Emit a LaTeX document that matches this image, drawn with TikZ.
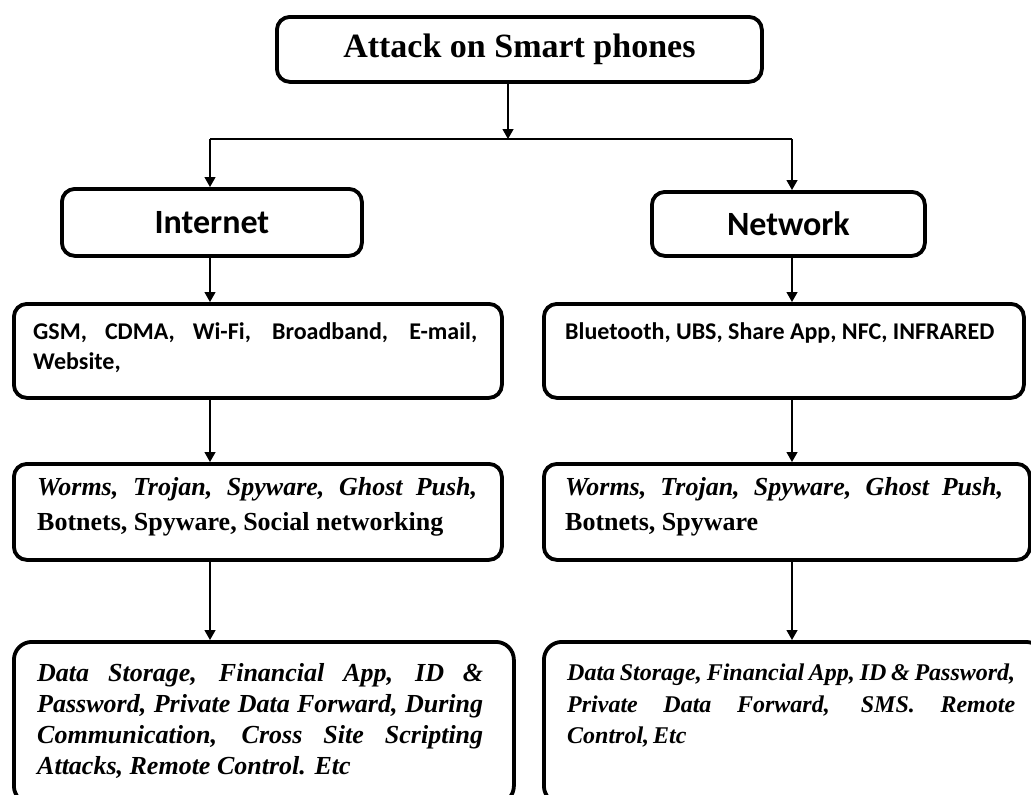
\documentclass[tikz,border=0pt]{standalone}
\usepackage{fontspec}
\setmainfont{Liberation Serif}
\newfontfamily\calibri{Carlito}
\usetikzlibrary{arrows.meta}

\tikzset{
  box/.style={draw=black, line width=3.8pt, rounded corners=13pt, fill=white,
              anchor=north west, inner sep=0pt},
  bigbox/.style={box, rounded corners=18pt},
  conn/.style={draw=black, line width=1.3pt},
  arr/.style={conn, -{Triangle[width=11pt,length=10pt]}},
  txt/.style={anchor=north west, inner sep=0pt, align=justify},
  headfont/.style={font=\calibri\bfseries\fontsize{34}{40}\selectfont},
  mediafont/.style={font=\calibri\bfseries\fontsize{24}{30}\selectfont},
  threatfont/.style={font=\bfseries\fontsize{26}{35}\selectfont},
  targetfont/.style={font=\bfseries\itshape\fontsize{26}{31}\selectfont},
}

\begin{document}
\begin{tikzpicture}[x=1pt,y=-1pt]
\useasboundingbox (0,0) rectangle (1031,795);
\clip (0,0) rectangle (1031,795);
\fill[white] (0,0) rectangle (1031,795);

% column axes and the branching point
\coordinate (colL) at (210,0);
\coordinate (colR) at (792,0);
\coordinate (split) at (508,139);

% root
\node[box, minimum width=485pt, minimum height=65pt,
      font=\bfseries\fontsize{34}{40}\selectfont] (title) at (275,15) {Attack on Smart phones};

% channels
\node[box, headfont, minimum width=300pt, minimum height=67pt] (inet) at (60,187) {Internet};
\node[box, headfont, minimum width=273pt, minimum height=64pt] (net) at (650,190) {Network};

% media
\node[box, minimum width=488pt, minimum height=94pt] (r2l) at (12,302) {};
\node[box, minimum width=480pt, minimum height=94pt] (r2r) at (542,302) {};
\node[txt, mediafont, text width=444pt] (r2lt) at ([xshift=21pt,yshift=-20pt]r2l.north west)
  {GSM, CDMA, Wi-Fi, Broadband, E-mail,\linebreak Website,};
\node[txt, mediafont, text width=440pt] (r2rt) at ([xshift=23pt,yshift=-20pt]r2r.north west)
  {Bluetooth, UBS, Share App, NFC, INFRARED};

% threats
\node[box, minimum width=488pt, minimum height=96pt] (r3l) at (12,462) {};
\node[box, minimum width=486pt, minimum height=96pt] (r3r) at (542,462) {};
\node[txt, threatfont, text width=440pt] (r3lt) at ([xshift=25pt,yshift=-15pt]r3l.north west)
  {{\itshape Worms, Trojan, Spyware, Ghost Push,}\linebreak Botnets, Spyware, Social networking};
\node[txt, threatfont, text width=438pt] (r3rt) at ([xshift=23pt,yshift=-15pt]r3r.north west)
  {{\itshape Worms, Trojan, Spyware, Ghost Push,}\linebreak Botnets, Spyware};

% targets
\node[bigbox, minimum width=500pt, minimum height=162pt] (r4l) at (12,640) {};
\node[bigbox, minimum width=500pt, minimum height=162pt] (r4r) at (542,640) {};
\node[txt, targetfont, text width=446pt] (r4lt) at ([xshift=25pt,yshift=-23pt]r4l.north west)
  {Data Storage, Financial App, ID \&\linebreak Password, Private Data Forward, During\linebreak
   Communication, Cross Site Scripting\linebreak Attacks, Remote Control. Etc};
\node[txt, font=\bfseries\itshape\fontsize{24}{31.5}\selectfont, text width=448pt] (r4rt)
  at ([xshift=25pt,yshift=-24pt]r4r.north west)
  {\spaceskip=0.16em plus 0.4em minus 0.04em\relax
   Data Storage, Financial App, ID \& Password,\linebreak Private Data Forward, SMS. Remote\linebreak
   Control, Etc};

% connectors
\draw[arr] (title.south -| split) -- (split);
\draw[conn] (split -| colL) -- (split -| colR);
\draw[arr] (split -| colL) -- (inet.north -| colL);
\draw[arr] (split -| colR) -- (net.north -| colR);
\draw[arr] (inet.south -| colL) -- (r2l.north -| colL);
\draw[arr] (net.south -| colR) -- (r2r.north -| colR);
\draw[arr] (r2l.south -| colL) -- (r3l.north -| colL);
\draw[arr] (r2r.south -| colR) -- (r3r.north -| colR);
\draw[arr] (r3l.south -| colL) -- (r4l.north -| colL);
\draw[arr] (r3r.south -| colR) -- (r4r.north -| colR);
\end{tikzpicture}
\end{document}
